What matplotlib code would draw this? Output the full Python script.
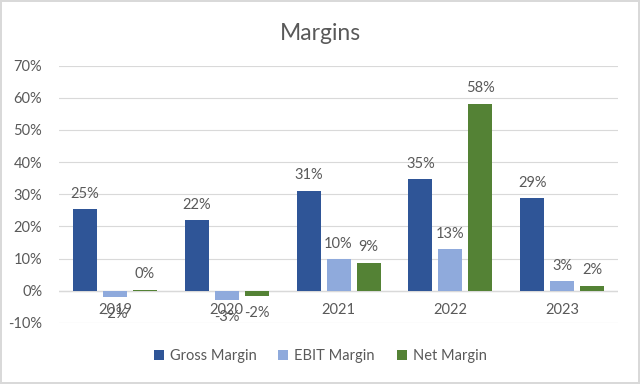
import matplotlib.pyplot as plt
import numpy as np

years = ["2019", "2020", "2021", "2022", "2023"]
gross_margin = [25.4, 22.0, 31.1, 34.7, 28.7]
ebit_margin = [-1.9, -2.9, 9.8, 13.0, 3.0]
net_margin = [0.3, -1.7, 8.7, 58.2, 1.6]
series_names = ["Gross Margin", "EBIT Margin", "Net Margin"]
colors = ["#2F5597", "#8FAADC", "#548235"]

plt.rcParams['font.family'] = ['Lato', 'DejaVu Sans']
text_color = "#595959"

fig = plt.figure(figsize=(6.4, 3.84), dpi=100)
fig.patch.set_edgecolor("#D9D9D9")
fig.patch.set_linewidth(1.5)
ax = fig.add_axes([0.092, 0.159, 0.874, 0.67])

x = np.arange(len(years))
width = 0.215
step = 0.268
for k, (vals, name, col) in enumerate(zip([gross_margin, ebit_margin, net_margin], series_names, colors)):
    pos = x + (k - 1) * step
    ax.bar(pos, vals, width, color=col, label=name, zorder=3)
    for px, v in zip(pos, vals):
        lab = f"{round(v):.0f}%"
        if v >= 0:
            ax.annotate(lab, (px, v), xytext=(0, 6), textcoords="offset points",
                        ha="center", va="bottom", fontsize=10.5, color=text_color)
        else:
            ax.annotate(lab, (px, v), xytext=(0, -7), textcoords="offset points",
                        ha="center", va="top", fontsize=10.5, color=text_color)

# category labels sit at the zero line like Excel
for xi, yr in zip(x, years):
    ax.annotate(yr, (xi, 0), xytext=(0, -14), textcoords="offset points",
                ha="center", va="center", fontsize=10.5, color=text_color)

ax.set_ylim(-10, 70)
ax.set_xlim(-0.5, len(years) - 0.5)
ax.set_yticks(range(-10, 71, 10))
ax.set_yticklabels([f"{t}%" for t in range(-10, 71, 10)], fontsize=10.5, color=text_color)
ax.set_xticks([])
ax.tick_params(axis="y", length=0, pad=12)
ax.grid(axis="y", color="#D9D9D9", linewidth=0.8, zorder=0)
ax.axhline(0, color="#D9D9D9", linewidth=1, zorder=2)
for s in ax.spines.values():
    s.set_visible(False)

fig.suptitle("Margins", y=0.94, fontsize=16.5, color=text_color)
fig.legend(loc="center", bbox_to_anchor=(0.5, 0.072), ncol=3, frameon=False,
           fontsize=10.5, handlelength=0.7, handleheight=0.7, columnspacing=1.5,
           handletextpad=0.4, labelcolor=text_color)

fig.savefig("out.png", dpi=100)
